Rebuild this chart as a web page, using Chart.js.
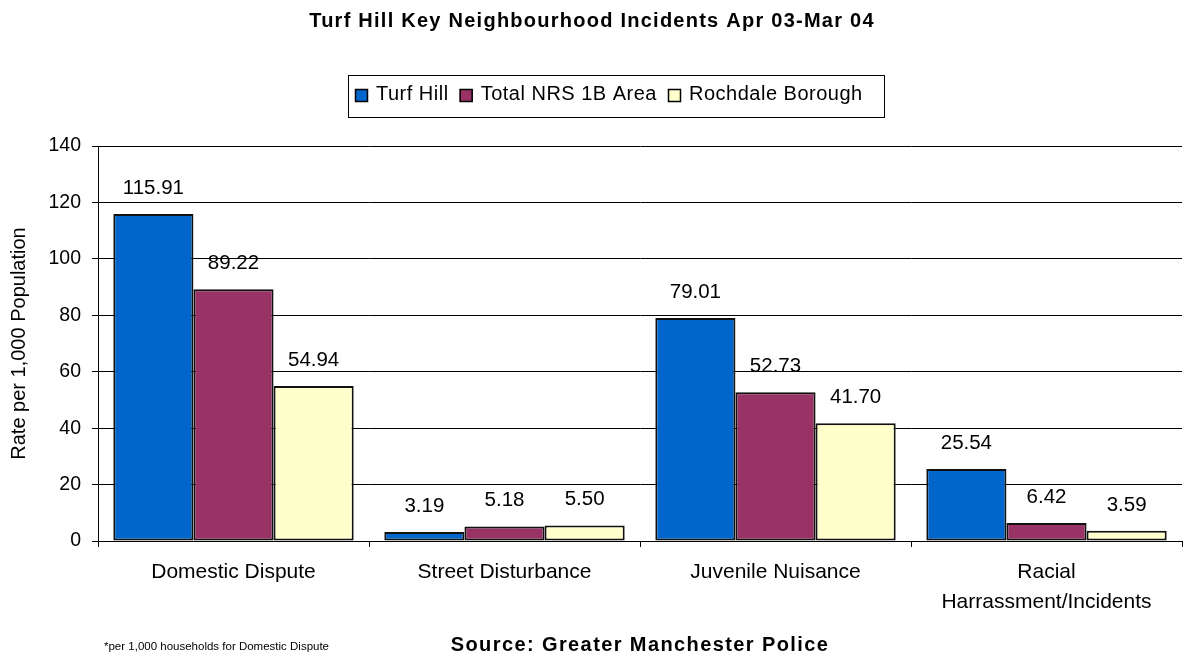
<!DOCTYPE html>
<html>
<head>
<meta charset="utf-8">
<title>Turf Hill Key Neighbourhood Incidents</title>
<script src="https://cdn.jsdelivr.net/npm/chart.js@4.4.1/dist/chart.umd.min.js"></script>
<style>
  html, body { margin: 0; padding: 0; background: #fff; }
  canvas { display: block; }
</style>
</head>
<body>
<canvas id="chart" width="1185" height="655"></canvas>
<script>
const categories = ['Domestic Dispute', 'Street Disturbance', 'Juvenile Nuisance', ['Racial', 'Harrassment/Incidents']];
const turfHill = [115.91, 3.19, 79.01, 25.54];
const totalNrs = [89.22, 5.18, 52.73, 6.42];
const rochdale = [54.94, 5.50, 41.70, 3.59];
const seriesNames = ['Turf Hill', 'Total NRS 1B Area', 'Rochdale Borough'];
const seriesColors = ['#0066CC', '#993366', '#FFFFCC'];

const FONT = "'Liberation Sans', Arial, sans-serif";

// values above each bar
const valueLabels = {
  id: 'valueLabels',
  afterDatasetsDraw(chart) {
    const ctx = chart.ctx;
    ctx.save();
    ctx.font = '20.5px ' + FONT;
    ctx.fillStyle = '#000';
    ctx.textAlign = 'center';
    ctx.textBaseline = 'alphabetic';
    chart.data.datasets.forEach((ds, i) => {
      chart.getDatasetMeta(i).data.forEach((bar, j) => {
        ctx.fillText(ds.data[j].toFixed(2), bar.x, bar.y - 20);
      });
    });
    ctx.restore();
  }
};

// title, boxed legend, footnotes
const decorations = {
  id: 'decorations',
  afterDraw(chart) {
    const ctx = chart.ctx;
    ctx.save();
    ctx.fillStyle = '#000';
    ctx.textBaseline = 'alphabetic';

    ctx.font = 'bold 20px ' + FONT;
    ctx.letterSpacing = '1.25px';
    ctx.textAlign = 'center';
    ctx.fillText('Turf Hill Key Neighbourhood Incidents Apr 03-Mar 04', 592, 26.5);

    ctx.letterSpacing = '1.4px';
    ctx.fillText('Source: Greater Manchester Police', 640, 651);
    ctx.letterSpacing = '0px';

    ctx.font = '11.5px ' + FONT;
    ctx.textAlign = 'left';
    ctx.fillText('*per 1,000 households for Domestic Dispute', 104, 650);

    // legend
    ctx.font = '20px ' + FONT;
    ctx.letterSpacing = '0.5px';
    let x = 355;
    chart.data.datasets.forEach((ds) => {
      ctx.fillStyle = ds.backgroundColor;
      ctx.fillRect(x, 89, 13, 13);
      ctx.strokeStyle = '#000';
      ctx.lineWidth = 1.5;
      ctx.strokeRect(x + 0.5, 89.5, 12, 12);
      x += 13 + 8;
      ctx.fillStyle = '#000';
      ctx.fillText(ds.label, x, 100);
      x += ctx.measureText(ds.label).width + 11;
    });
    ctx.strokeStyle = '#000';
    ctx.lineWidth = 1;
    ctx.strokeRect(348.5, 75.5, 884 - 348, 42);
    ctx.restore();
  }
};

new Chart(document.getElementById('chart'), {
  type: 'bar',
  data: {
    labels: categories,
    datasets: [
      { label: seriesNames[0], data: turfHill, backgroundColor: seriesColors[0] },
      { label: seriesNames[1], data: totalNrs, backgroundColor: seriesColors[1] },
      { label: seriesNames[2], data: rochdale, backgroundColor: seriesColors[2] }
    ]
  },
  options: {
    responsive: false,
    animation: false,
    devicePixelRatio: 1,
    layout: { padding: { top: 146, right: 3, left: 0, bottom: 0 } },
    datasets: {
      bar: {
        borderColor: '#111',
        borderWidth: 2,
        borderSkipped: false,
        categoryPercentage: 0.887,
        barPercentage: 1
      }
    },
    plugins: {
      legend: { display: false },
      title: { display: false },
      tooltip: { enabled: false }
    },
    scales: {
      x: {
        grid: { drawOnChartArea: false, drawTicks: true, tickLength: 6, color: '#000' },
        border: { display: true, color: '#000' },
        ticks: {
          color: '#000',
          font: { family: FONT, size: 21, lineHeight: 1.43 },
          padding: 10,
          maxRotation: 0,
          autoSkip: false
        },
        afterFit(scale) { scale.height = 114; }
      },
      y: {
        min: 0,
        max: 140,
        grid: { color: '#000', tickLength: 6 },
        border: { display: true, color: '#000' },
        ticks: {
          stepSize: 20,
          color: '#000',
          font: { family: FONT, size: 19.5 },
          padding: 11
        },
        title: {
          display: true,
          text: 'Rate per 1,000 Population',
          color: '#000',
          font: { family: FONT, size: 20 },
          padding: { top: 7.5, bottom: 0 }
        },
        afterFit(scale) { scale.width = 98; }
      }
    }
  },
  plugins: [valueLabels, decorations]
});
</script>
</body>
</html>
